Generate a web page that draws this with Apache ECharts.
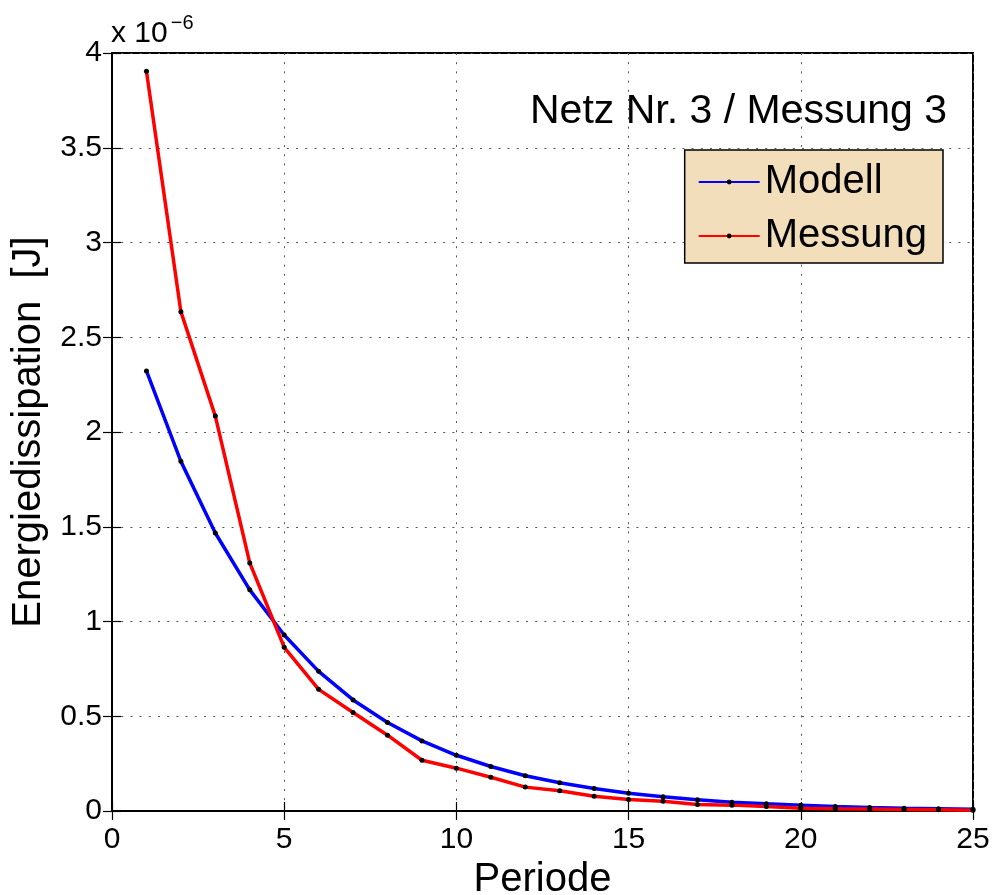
<!DOCTYPE html>
<html><head><meta charset="utf-8">
<script src="https://cdn.jsdelivr.net/npm/echarts@6/dist/echarts.min.js"></script>
<style>html,body{margin:0;padding:0;background:#fff;overflow:hidden}#c{width:996px;height:895px}</style>
</head><body><div id="c"></div>
<script>
const periods = [1,2,3,4,5,6,7,8,9,10,11,12,13,14,15,16,17,18,19,20,21,22,23,24,25];
const modell = [2.322,1.845,1.467,1.167,0.929,0.737,0.586,0.467,0.370,0.294,0.235,0.186,0.149,0.119,0.094,0.075,0.059,0.046,0.038,0.031,0.024,0.019,0.015,0.012,0.009];
const messung = [3.904,2.635,2.084,1.309,0.864,0.642,0.520,0.400,0.268,0.226,0.178,0.126,0.107,0.078,0.061,0.052,0.034,0.031,0.024,0.015,0.012,0.010,0.008,0.006,0.004];
const seriesNames = ['Modell','Messung'];
const titleText = 'Netz Nr. 3 / Messung 3';
const xName = 'Periode';
const yName = 'Energiedissipation  [J]';

const F = 'Liberation Sans, Arial, Helvetica, sans-serif';
const chart = echarts.init(document.getElementById('c'), null, {renderer:'canvas'});
const split = {show:true, lineStyle:{color:'#555', type:[2,7.2], width:1}};
const tickIn = {show:true, inside:true, length:9, lineStyle:{color:'#000', width:1.2}};
const axLine = {show:true, lineStyle:{color:'#000', width:2}};
chart.setOption({
  animation:false,
  textStyle:{fontFamily:F},
  grid:{left:112, right:23, top:53, bottom:84, outerBoundsMode:'none', containLabel:false, show:true, borderColor:'#000', borderWidth:2, backgroundColor:'#fff'},
  title:{text:titleText, right:44, top:86, textStyle:{fontFamily:F, fontSize:41, fontWeight:'normal', color:'#000'}},
  legend:{
    data:seriesNames, orient:'vertical', right:53, top:150,
    backgroundColor:'#F3DEBB', borderColor:'#000', borderWidth:1.5,
    padding:[12,16,7,13], itemGap:14, itemWidth:61, itemHeight:6,
    textStyle:{fontFamily:F, fontSize:40, color:'#000', padding:[0,0,0,0], lineHeight:40}
  },
  xAxis:[{
    type:'value', min:0, max:25, interval:5,
    name:xName, nameLocation:'middle', nameGap:42,
    nameTextStyle:{fontFamily:F, fontSize:40, color:'#000'},
    axisLine:axLine, axisTick:tickIn, splitLine:split,
    axisLabel:{fontFamily:F, fontSize:30, color:'#000', margin:14}
  },{
    type:'value', position:'top', min:0, max:25, interval:5,
    axisLine:axLine, axisTick:tickIn, splitLine:{show:false}, axisLabel:{show:false}
  }],
  yAxis:[{
    type:'value', min:0, max:4, interval:0.5,
    name:yName, nameLocation:'middle', nameGap:55,
    nameTextStyle:{fontFamily:F, fontSize:40, color:'#000'},
    axisLine:axLine, axisTick:tickIn, splitLine:split,
    axisLabel:{fontFamily:F, fontSize:30, color:'#000', margin:10}
  },{
    type:'value', position:'right', min:0, max:4, interval:0.5,
    axisLine:axLine, axisTick:tickIn, splitLine:{show:false}, axisLabel:{show:false}
  }],
  graphic:[{
    type:'text', left:111, top:13,
    style:{text:'{a|x 10}{b|−6}', rich:{a:{fontFamily:F, fontSize:30, fill:'#000', verticalAlign:'bottom'}, b:{fontFamily:F, fontSize:20, fill:'#000', verticalAlign:'top', padding:[0,0,16,3]}}}
  }],
  series:[{
    name:seriesNames[0], type:'line', data:periods.map((p,i)=>[p,modell[i]]),
    symbol:'circle', symbolSize:5, showSymbol:true,
    lineStyle:{color:'#0000FF', width:3.5}, itemStyle:{color:'#000'}
  },{
    name:seriesNames[1], type:'line', data:periods.map((p,i)=>[p,messung[i]]),
    symbol:'circle', symbolSize:5, showSymbol:true,
    lineStyle:{color:'#FF0000', width:3.5}, itemStyle:{color:'#000'}
  }]
});
</script></body></html>
